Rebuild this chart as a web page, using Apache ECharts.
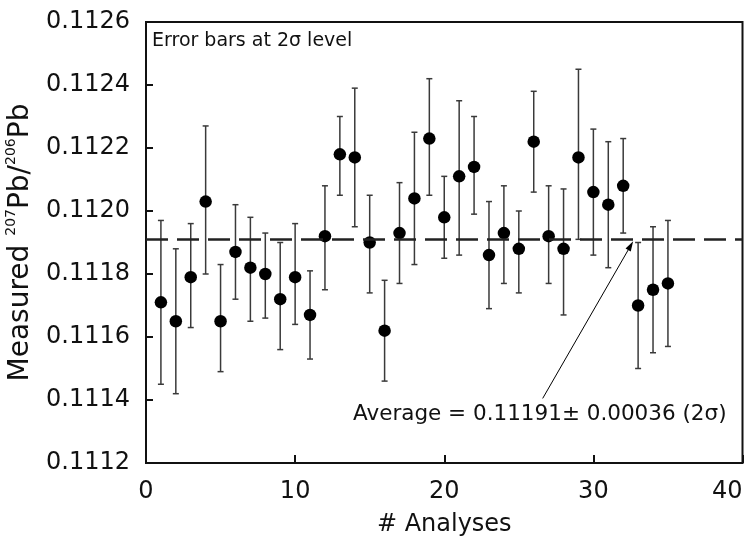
<!DOCTYPE html>
<html>
<head>
<meta charset="utf-8">
<script src="https://cdn.jsdelivr.net/npm/echarts@6/dist/echarts.min.js"></script>
<style>
  html, body { margin: 0; padding: 0; background: #fff; }
  #chart { width: 749px; height: 537px; }
</style>
</head>
<body>
<div id="chart"></div>
<script>
// analysis number, measured 207Pb/206Pb, and the 2 sigma bar ends
const analyses = [1, 2, 3, 4, 5, 6, 7, 8, 9, 10, 11, 12, 13, 14, 15, 16, 17, 18, 19, 20,
  21, 22, 23, 24, 25, 26, 27, 28, 29, 30, 31, 32, 33, 34, 35];
const ratios = [0.11171, 0.11165, 0.11179, 0.11203, 0.11165, 0.11187, 0.11182, 0.11180, 0.11172, 0.11179,
  0.11167, 0.11192, 0.11218, 0.11217, 0.11190, 0.11162, 0.11193, 0.11204, 0.11223, 0.11198,
  0.11211, 0.11214, 0.11186, 0.11193, 0.11188, 0.11222, 0.11192, 0.11188, 0.11217, 0.11206,
  0.11202, 0.11208, 0.11170, 0.11175, 0.11177];
const upper = [0.11197, 0.11188, 0.11196, 0.11227, 0.11183, 0.11202, 0.11198, 0.11193, 0.11190, 0.11196,
  0.11181, 0.11208, 0.11230, 0.11239, 0.11205, 0.11178, 0.11209, 0.11225, 0.11242, 0.11211,
  0.11235, 0.11230, 0.11203, 0.11208, 0.11200, 0.11238, 0.11208, 0.11207, 0.11245, 0.11226,
  0.11222, 0.11223, 0.11190, 0.11195, 0.11197];
const lower = [0.11145, 0.11142, 0.11163, 0.11180, 0.11149, 0.11172, 0.11165, 0.11166, 0.11156, 0.11164,
  0.11153, 0.11175, 0.11205, 0.11195, 0.11174, 0.11146, 0.11177, 0.11183, 0.11205, 0.11185,
  0.11186, 0.11199, 0.11169, 0.11177, 0.11174, 0.11206, 0.11177, 0.11167, 0.11191, 0.11186,
  0.11182, 0.11193, 0.11150, 0.11155, 0.11157];
const average = 0.11191;
const yTicks = [0.1112, 0.1114, 0.1116, 0.1118, 0.1120, 0.1122, 0.1124, 0.1126];
const xTicks = [0, 10, 20, 30, 40];
// arrow from the label to the average line (data coords)
const arrowFrom = [26.6, 0.111405];
const arrowTo = [32.5, 0.11189];

const font = 'DejaVu Sans, Arial, sans-serif';
const ink = '#111';
const chart = echarts.init(document.getElementById('chart'));

const points = analyses.map((x, i) => [x, ratios[i]]);
const bars = analyses.map((x, i) => [x, lower[i], upper[i]]);

// error bar with small caps
function renderErrorBar(params, api) {
  const x = api.value(0);
  const lo = api.coord([x, api.value(1)]);
  const hi = api.coord([x, api.value(2)]);
  const cap = 3;
  const style = { stroke: '#3a3a3a', lineWidth: 1.5 };
  return {
    type: 'group',
    children: [
      { type: 'line', shape: { x1: lo[0], y1: lo[1], x2: hi[0], y2: hi[1] }, style },
      { type: 'line', shape: { x1: lo[0] - cap, y1: lo[1], x2: lo[0] + cap, y2: lo[1] }, style },
      { type: 'line', shape: { x1: hi[0] - cap, y1: hi[1], x2: hi[0] + cap, y2: hi[1] }, style }
    ]
  };
}

chart.setOption({
  backgroundColor: '#fff',
  animation: false,
  textStyle: { fontFamily: font },
  grid: {
    left: 146, right: 6.5, top: 22, bottom: 74,
    containLabel: false,
    outerBoundsMode: 'none',
    show: true, borderColor: ink, borderWidth: 2, backgroundColor: 'transparent'
  },
  xAxis: {
    type: 'value',
    min: xTicks[0], max: xTicks[xTicks.length - 1], interval: 10,
    axisLine: { show: false },
    axisTick: { inside: true, length: 8, lineStyle: { color: ink, width: 2 } },
    splitLine: { show: false },
    axisLabel: { fontSize: 24, color: ink, margin: 17, fontFamily: font, alignMaxLabel: 'right' },
    name: '# Analyses',
    nameLocation: 'middle',
    nameGap: 50,
    nameTextStyle: { fontSize: 24, color: ink, fontFamily: font }
  },
  yAxis: {
    type: 'value',
    min: yTicks[0], max: yTicks[yTicks.length - 1], interval: 0.0002,
    axisLine: { show: false },
    axisTick: { inside: true, length: 7, lineStyle: { color: ink, width: 2 } },
    splitLine: { show: false },
    axisLabel: {
      fontSize: 24, color: ink, margin: 16, fontFamily: font,
      formatter: v => v.toFixed(4)
    },
    name: '{a|Measured }{s|207}{a|Pb/}{s|206}{a|Pb}',
    nameLocation: 'middle',
    nameRotate: 90,
    nameGap: 108,
    nameTextStyle: {
      fontFamily: font,
      rich: {
        a: { fontSize: 28, color: ink, fontFamily: font, lineHeight: 31, verticalAlign: 'bottom' },
        s: { fontSize: 14, color: ink, fontFamily: font, lineHeight: 31, verticalAlign: 'top' }
      }
    }
  },
  series: [
    {
      type: 'custom',
      renderItem: renderErrorBar,
      data: bars,
      encode: { x: 0, y: [1, 2] },
      z: 2,
      silent: true
    },
    {
      type: 'scatter',
      data: points,
      symbol: 'circle',
      symbolSize: 12.5,
      itemStyle: { color: '#000', opacity: 1 },
      z: 3,
      silent: true
    },
    {
      type: 'line',
      data: [],
      silent: true,
      markLine: {
        silent: true,
        symbol: ['none', 'none'],
        label: { show: false },
        data: [
          [
            { coord: [xTicks[0], average], lineStyle: { color: '#222', width: 2.5, type: [22, 9] } },
            { coord: [xTicks[xTicks.length - 1], average] }
          ],
          [
            { coord: arrowFrom, symbol: 'none', lineStyle: { color: '#000', width: 1, type: 'solid' } },
            { coord: arrowTo, symbol: 'triangle', symbolSize: [6, 10] }
          ]
        ]
      }
    }
  ],
  graphic: [
    {
      type: 'text', left: 152, top: 32,
      style: { text: 'Error bars at 2σ level', fontSize: 19, fill: ink, fontFamily: font }
    },
    {
      type: 'text', left: 353, top: 403,
      style: { text: 'Average = 0.11191± 0.00036 (2σ)', fontSize: 21.5, fill: ink, fontFamily: font }
    }
  ]
});
</script>
</body>
</html>
